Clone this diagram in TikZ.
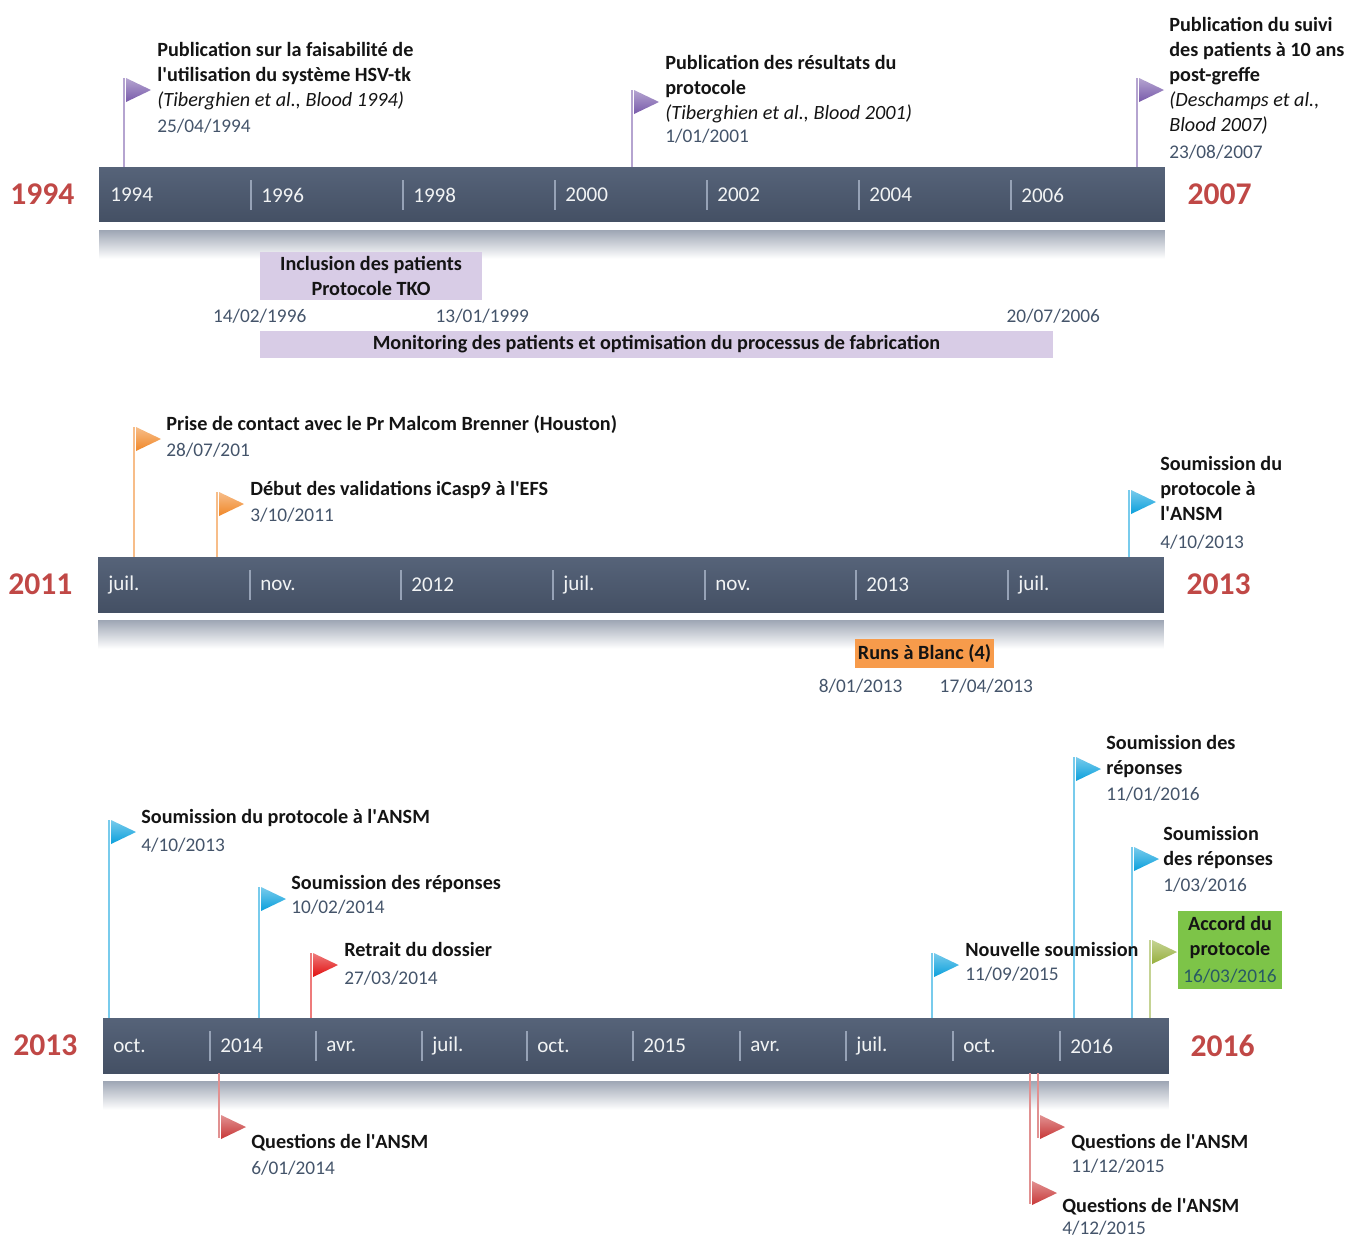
\documentclass[tikz,border=0pt]{standalone}
\usepackage{fontspec}
\setmainfont{Carlito}
\usepackage{tikz}
\usetikzlibrary{positioning, calc}
\definecolor{cBarTop}{RGB}{86,99,121}
\definecolor{cBarBot}{RGB}{68,80,100}
\definecolor{cGlow}{RGB}{160,168,182}
\definecolor{cTick}{RGB}{150,162,182}
\definecolor{cYear}{RGB}{192,72,70}
\definecolor{cDate}{RGB}{68,84,106}
\definecolor{cText}{RGB}{20,20,20}
\definecolor{cPurple}{RGB}{120,90,170}
\definecolor{cOrange}{RGB}{240,135,40}
\definecolor{cBlue}{RGB}{10,160,220}
\definecolor{cRedB}{RGB}{225,15,15}
\definecolor{cRed}{RGB}{200,55,55}
\definecolor{cOlive}{RGB}{150,175,60}
\definecolor{cGreenBox}{RGB}{125,196,72}
\definecolor{cLav}{RGB}{216,204,230}
\definecolor{cRuns}{RGB}{247,155,75}
\definecolor{cTeal}{RGB}{40,90,100}
\newcommand{\evdate}[1]{{\normalfont\fontsize{11}{13}\selectfont\color{cDate}#1}}
\newcommand{\evref}[1]{{\normalfont\itshape #1}}
\newcommand{\apos}{\textquotesingle}
\tikzset{
    bar/.style      ={rectangle, minimum width=21.32cm, minimum height=1.1cm, inner sep=0pt, top color=cBarTop, bottom color=cBarBot},
    glow/.style     ={rectangle, minimum width=21.32cm, minimum height=0.56cm, inner sep=0pt, top color=cGlow, bottom color=white},
    yearlbl/.style  ={inner sep=0pt, font=\fontsize{18}{20}\selectfont\bfseries, text=cYear},
    ticklbl/.style  ={anchor=west, inner sep=0pt, font=\fontsize{12}{14}\selectfont, text=white!92!cBarTop},
    tick/.style     ={draw=cTick, line width=0.7pt},
    event/.style    ={anchor=north west, align=left, inner sep=0pt, text=cText, font=\fontsize{11.5}{14.2}\selectfont\bfseries},
    datelbl/.style  ={inner sep=0pt, text=cDate, font=\fontsize{11}{13}\selectfont},
    pole/.style     ={draw=#1!55!white, line width=0.8pt},
    flagtri/.style  ={top color=#1!55!white, bottom color=#1},
    period/.style   ={rectangle, inner sep=0pt, align=center, text=cText, font=\fontsize{11.5}{14.2}\selectfont\bfseries, fill=#1},
}

\begin{document}
\begin{tikzpicture}[x=0.02cm, y=-0.02cm]
\useasboundingbox (0,0) rectangle (1348,1241);

% 1994 -- 2007
\node[bar] (bar1) at (632,194.5) {};
\node[glow, below=0.16cm of bar1] (glow1) {};
\node[yearlbl, left=0.48cm of bar1] (ya1) {1994};
\node[yearlbl, right=0.44cm of bar1] (yb1) {2007};
\node[ticklbl] (t1-0) at (110,195) {1994};
\foreach \x/\t in {251/1996,403/1998,555/2000,707/2002,859/2004,1011/2006}{
    \draw[tick] (\x,180) -- (\x,210);
    \node[ticklbl] (t1-\x) at (\x+10,195) {\t};
}
\foreach \x/\a/\b/\f/\c [count=\i] in {124/167/78/78/cPurple, 632/167/90/90/cPurple, 1137/167/78/78/cPurple}{
    \coordinate (p1-\i) at (\x,\a);
    \coordinate (q1-\i) at (\x,\b);
    \draw[pole=\c] (p1-\i) -- (q1-\i);
    \shade[flagtri=\c] (\x+2,\f) -- ++(0,24) -- ++(25,-12) -- cycle;
}
\node[event] (e1) at (157,42) {Publication sur la faisabilité de\\l\apos utilisation du système HSV-tk\\\evref{(Tiberghien et al., Blood 1994)}\\[0.5pt]\evdate{25/04/1994}};
\node[event] (e2) at (665,55) {Publication des résultats du\\protocole\\\evref{(Tiberghien et al., Blood 2001)}\\[-1pt]\evdate{1/01/2001}};
\node[event] (e3) at (1169,17) {Publication du suivi\\des patients à 10 ans\\post-greffe\\\evref{(Deschamps et al.,}\\\evref{Blood 2007)}\\[1.5pt]\evdate{23/08/2007}};

\node[period=cLav, minimum width=4.44cm, minimum height=0.96cm] (inc) at (371,276) {Inclusion des patients\\Protocole TKO};
\node[period=cLav, minimum width=15.86cm, minimum height=0.54cm] (mon) at (656.5,344.5) {Monitoring des patients et optimisation du processus de fabrication};
\node[datelbl, above=0.14cm of mon.north west] (d1) {14/02/1996};
\node[datelbl, below=0.16cm of inc.south east] (d2) {13/01/1999};
\node[datelbl, above=0.14cm of mon.north east] (d3) {20/07/2006};

% 2011 -- 2013
\node[bar] (bar2) at (631,584.5) {};
\node[glow, below=0.16cm of bar2] (glow2) {};
\node[yearlbl, left=0.5cm of bar2] (ya2) {2011};
\node[yearlbl, right=0.44cm of bar2] (yb2) {2013};
\node[ticklbl] (t2-0) at (108,585) {juil.};
\foreach \x/\t in {250/nov.,401/2012,553/juil.,705/nov.,856/2013,1008/juil.}{
    \draw[tick] (\x,570) -- (\x,600);
    \node[ticklbl] (t2-\x) at (\x+10,585) {\t};
}
\foreach \x/\a/\b/\f/\c [count=\i] in {134/557/427/427/cOrange, 217/557/492/492/cOrange, 1129/557/490/490/cBlue}{
    \coordinate (p2-\i) at (\x,\a);
    \coordinate (q2-\i) at (\x,\b);
    \draw[pole=\c] (p2-\i) -- (q2-\i);
    \shade[flagtri=\c] (\x+2,\f) -- ++(0,24) -- ++(25,-12) -- cycle;
}
\node[event] (e4) at (166,415) {Prise de contact avec le Pr Malcom Brenner (Houston)\\[0.5pt]\evdate{28/07/201}};
\node[event] (e5) at (250,481) {Début des validations iCasp9 à l\apos EFS\\[0.5pt]\evdate{3/10/2011}};
\node[event] (e6) at (1160,456) {Soumission du\\protocole à\\l\apos ANSM\\[1.5pt]\evdate{4/10/2013}};

\node[period=cRuns, minimum width=2.78cm, minimum height=0.58cm] (runs) at (924.5,653.5) {Runs à Blanc (4)};
\node[datelbl, below=0.2cm of runs.south west, xshift=0.12cm] (d4) {8/01/2013};
\node[datelbl, below=0.2cm of runs.south east, xshift=-0.16cm] (d5) {17/04/2013};

% 2013 -- 2016
\node[bar] (bar3) at (636,1045.5) {};
\node[glow, below=0.16cm of bar3] (glow3) {};
\node[yearlbl, left=0.5cm of bar3] (ya3) {2013};
\node[yearlbl, right=0.42cm of bar3] (yb3) {2016};
\node[ticklbl] (t3-0) at (113,1046) {oct.};
\foreach \x/\t in {210/2014,316/avr.,422/juil.,527/oct.,633/2015,740/avr.,846/juil.,953/oct.,1060/2016}{
    \draw[tick] (\x,1031) -- (\x,1061);
    \node[ticklbl] (t3-\x) at (\x+10,1046) {\t};
}
\foreach \x/\a/\b/\f/\c [count=\i] in {109/1018/820/820/cBlue, 259/1018/887/887/cBlue, 311/1018/953/953/cRedB, 932/1018/953/953/cBlue, 1074/1018/757/757/cBlue, 1132/1018/847/847/cBlue, 1150/1018/940/940/cOlive, 219/1073/1138/1115/cRed, 1038/1073/1138/1115/cRed, 1030/1073/1204/1181/cRed}{
    \coordinate (p3-\i) at (\x,\a);
    \coordinate (q3-\i) at (\x,\b);
    \draw[pole=\c] (p3-\i) -- (q3-\i);
    \shade[flagtri=\c] (\x+2,\f) -- ++(0,24) -- ++(25,-12) -- cycle;
}
\node[event] (e7) at (141,809) {Soumission du protocole à l\apos ANSM\\[1.5pt]\evdate{4/10/2013}};
\node[event] (e8) at (291,875) {Soumission des réponses\\[-0.5pt]\evdate{10/02/2014}};
\node[event] (e9) at (344,942) {Retrait du dossier\\[1.5pt]\evdate{27/03/2014}};
\node[event] (e10) at (965,942) {Nouvelle soumission\\[-0.5pt]\evdate{11/09/2015}};
\node[event] (e11) at (1106,735) {Soumission des\\réponses\\[0.5pt]\evdate{11/01/2016}};
\node[event] (e12) at (1163,826) {Soumission\\des réponses\\[0.5pt]\evdate{1/03/2016}};
\node[period=cGreenBox, minimum width=2.08cm, minimum height=1.56cm] (acc) at (1230,950) {Accord du\\protocole\\[1pt]{\normalfont\fontsize{11}{13}\selectfont\color{cTeal}16/03/2016}};
\node[event] (e13) at (251,1134) {Questions de l\apos ANSM\\[0.5pt]\evdate{6/01/2014}};
\node[event] (e14) at (1071,1134) {Questions de l\apos ANSM\\[-0.5pt]\evdate{11/12/2015}};
\node[event] (e15) at (1062,1198) {Questions de l\apos ANSM\\[-1.5pt]\evdate{4/12/2015}};
\end{tikzpicture}
\end{document}
